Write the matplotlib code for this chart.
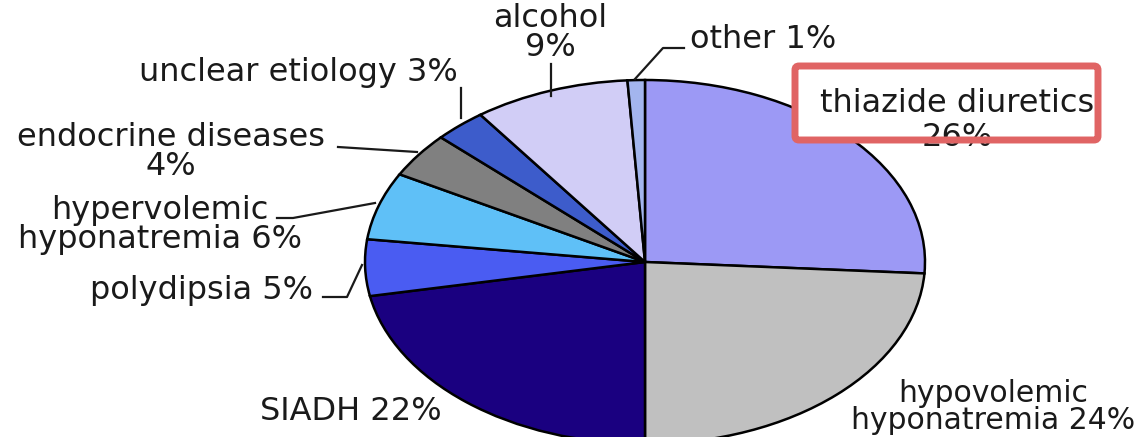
import matplotlib
matplotlib.use("Agg")
import matplotlib.pyplot as plt
from matplotlib.patches import FancyBboxPatch

# slices, clockwise from 12 o'clock
labels = ["thiazide diuretics", "hypovolemic hyponatremia", "SIADH", "polydipsia",
          "hypervolemic hyponatremia", "endocrine diseases", "unclear etiology",
          "alcohol", "other"]
shares = [26, 24, 22, 5, 6, 4, 3, 9, 1]
colors = ["#9c99f5", "#c0c0c0", "#1a0080", "#4a5cf2", "#5fc0f7",
          "#808080", "#3d5ccb", "#d1cdf6", "#a3b5ee"]

W, H = 1141, 437
fig = plt.figure(figsize=(W / 100, H / 100), dpi=100)
fig.patch.set_facecolor("white")

# pie axes: stretched horizontally like the source picture
cx, cy, rx, ry = 645, 262, 280, 182
pie_ax = fig.add_axes([(cx - rx) / W, (H - cy - ry) / H, 2 * rx / W, 2 * ry / H])
pie_ax.pie(shares, colors=colors, startangle=90, counterclock=False,
           wedgeprops=dict(edgecolor="black", linewidth=1.8))
pie_ax.set_aspect("auto")
pie_ax.set_xlim(-1, 1)
pie_ax.set_ylim(-1, 1)
pie_ax.axis("off")
for p in pie_ax.patches:
    p.set_clip_on(False)

# overlay in pixel coordinates for labels
ax = fig.add_axes([0, 0, 1, 1])
ax.set_xlim(0, W)
ax.set_ylim(H, 0)
ax.axis("off")
ax.patch.set_alpha(0)

txt = dict(fontsize=23, color="#1a1a1a", family="DejaVu Sans", linespacing=0.92)
lk = dict(color="#1a1a1a", lw=1.6)

ax.text(550, 33, "alcohol\n9%", ha="center", va="center", **txt)
ax.plot([551, 551], [64, 96], **lk)

ax.text(690, 40, "other 1%", ha="left", va="center", **txt)
ax.plot([635, 663, 684], [79, 48, 48], **lk)

ax.text(458, 72, "unclear etiology 3%", ha="right", va="center", **txt)
ax.plot([461, 461], [88, 118], **lk)

ax.text(171, 152, "endocrine diseases\n4%", ha="center", va="center", **txt)
ax.plot([338, 417], [147, 152], **lk)

ax.text(160, 225, "hypervolemic\nhyponatremia 6%", ha="center", va="center", **txt)
ax.plot([277, 293, 375], [218, 218, 203], **lk)

ax.text(313, 290, "polydipsia 5%", ha="right", va="center", **txt)
ax.plot([323, 347, 362], [297, 297, 265], **lk)

ax.text(351, 412, "SIADH 22%", ha="center", va="center", **txt)

ax.text(993, 407, "hypovolemic\nhyponatremia 24%", ha="center", va="center",
        **{**txt, "fontsize": 21.5})

# highlight box over the thiazide label
box_fill = FancyBboxPatch((795, 66), 303, 74, boxstyle="round,pad=0,rounding_size=4",
                          facecolor="white", edgecolor="none", zorder=3)
ax.add_patch(box_fill)
ax.text(957, 103, "thiazide diuretics", ha="center", va="center", zorder=4, **txt)
t26 = ax.text(957, 137, "26%", ha="center", va="center", zorder=4, **txt)
t26.set_clip_path(box_fill)
box_edge = FancyBboxPatch((795, 66), 303, 74, boxstyle="round,pad=0,rounding_size=4",
                          facecolor="none", edgecolor="#e06464", linewidth=5, zorder=5)
ax.add_patch(box_edge)

fig.savefig("out.png", dpi=100, facecolor="white")
